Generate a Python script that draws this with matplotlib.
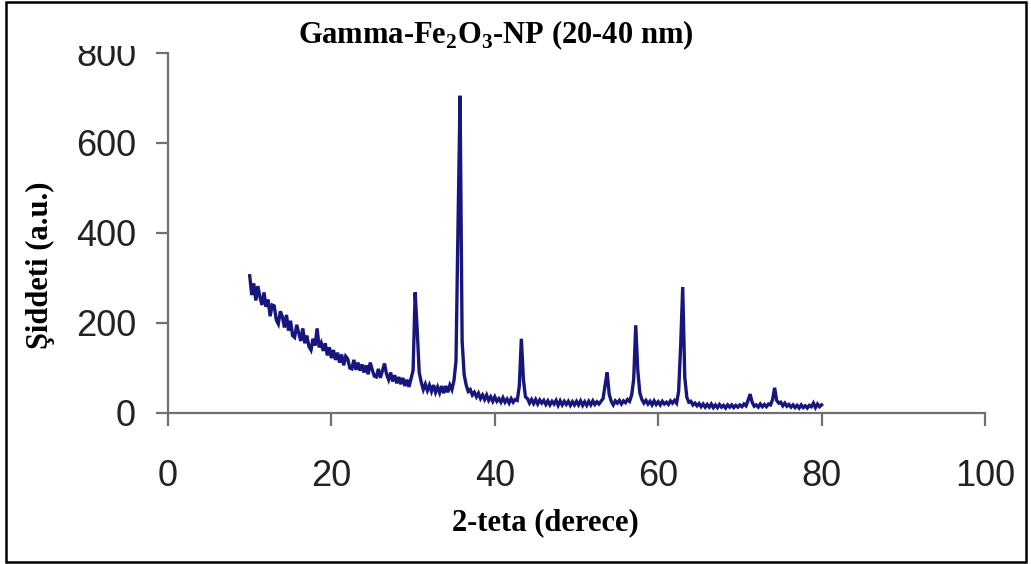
import matplotlib
matplotlib.use('Agg')
import matplotlib.pyplot as plt
from matplotlib.patches import Rectangle
import numpy as np

two_theta = np.arange(10, 80.001, 0.25)

intensity = [
    305, 262, 288, 250,   # 10
    282, 258, 240, 268,   # 11
    236, 252, 215, 240,   # 12
    238, 207, 198, 226,   # 13
    214, 190, 218, 183,   # 14
    205, 172, 168, 196,   # 15
    178, 160, 188, 155,   # 16
    172, 148, 140, 165,   # 17
    150, 188, 146, 156,   # 18
    138, 155, 128, 146,   # 19
    122, 140, 118, 134,   # 20
    112, 130, 106, 126,   # 21
    120, 100, 98, 118,    # 22
    96, 112, 94, 108,     # 23
    90, 106, 86, 112,     # 24
    96, 82, 80, 98,       # 25
    78, 94, 110, 86,      # 26
    74, 90, 70, 84,       # 27
    66, 80, 64, 78,       # 28
    60, 74, 58, 76,       # 29
    95, 268, 185, 90,     # 30
    68, 52, 64, 50,       # 31
    62, 48, 62, 46,       # 32
    58, 45, 60, 44,       # 33
    60, 46, 62, 52,       # 34
    72, 115, 420, 705,    # 35
    160, 85, 62, 48,      # 36
    52, 40, 46, 36,       # 37
    44, 32, 40, 30,       # 38
    40, 28, 36, 26,       # 39
    36, 26, 32, 24,       # 40
    34, 24, 31, 22,       # 41
    32, 24, 30, 28,       # 42
    60, 165, 75, 36,      # 43
    32, 22, 30, 21,       # 44
    30, 20, 29, 22,       # 45
    28, 19, 27, 18,       # 46
    26, 20, 28, 17,       # 47
    27, 18, 26, 19,       # 48
    26, 17, 25, 18,       # 49
    26, 18, 27, 17,       # 50
    25, 17, 26, 18,       # 51
    27, 19, 25, 20,       # 52
    26, 32, 62, 90,       # 53
    42, 26, 18, 27,       # 54
    22, 28, 20, 27,       # 55
    23, 30, 26, 40,       # 56
    75, 195, 95, 45,      # 57
    30, 22, 28, 20,       # 58
    26, 18, 27, 19,       # 59
    25, 18, 26, 20,       # 60
    24, 19, 27, 22,       # 61
    28, 22, 48, 150,      # 62
    280, 80, 35, 24,      # 63
    26, 18, 22, 16,       # 64
    21, 14, 20, 13,       # 65
    19, 13, 20, 12,       # 66
    18, 12, 19, 13,       # 67
    17, 11, 18, 13,       # 68
    18, 12, 17, 13,       # 69
    18, 14, 20, 16,       # 70
    28, 42, 24, 15,       # 71
    18, 13, 20, 14,       # 72
    19, 14, 20, 18,       # 73
    30, 56, 28, 22,       # 74
    24, 16, 22, 15,       # 75
    19, 13, 18, 12,       # 76
    17, 11, 18, 12,       # 77
    16, 11, 17, 14,       # 78
    22, 12, 20, 14,       # 79
    18,                   # 80
]

x_ticks = [0, 20, 40, 60, 80, 100]
y_ticks = [0, 200, 400, 600, 800]

plt.rcParams['mathtext.fontset'] = 'custom'
plt.rcParams['mathtext.rm'] = 'Liberation Serif:bold'
plt.rcParams['mathtext.bf'] = 'Liberation Serif:bold'

fig = plt.figure(figsize=(10.31, 5.64), dpi=100)
ax = fig.add_axes([168 / 1031, 151 / 564, 817 / 1031, 360 / 564])

# Desen
ax.plot(two_theta, intensity, color='#16167c', lw=2.4, solid_joinstyle='miter')

ax.set_xlim(0, 100)
ax.set_ylim(0, 800)
ax.set_xticks(x_ticks)
ax.set_yticks(y_ticks)

# Eksen görünümü
for side in ['top', 'right']:
    ax.spines[side].set_visible(False)
for side in ['left', 'bottom']:
    ax.spines[side].set_color('#707070')
    ax.spines[side].set_linewidth(1.6)
ax.tick_params(axis='both', direction='out', length=9, width=1.6, color='#707070',
               labelsize=26, labelcolor='#222222')
ax.tick_params(axis='x', pad=24)
ax.tick_params(axis='y', pad=14)
for lbl in ax.get_xticklabels() + ax.get_yticklabels():
    lbl.set_fontfamily('Liberation Sans')

# Başlık ve etiketler
fig.text(496 / 1031, 1 - 35 / 564, 'Gamma-Fe$_\\mathbf{2}$O$_\\mathbf{3}$-NP (20-40 nm)',
         family='Liberation Serif', weight='bold', fontsize=22, ha='center', va='center')
fig.text(40 / 1031, 1 - 265 / 564, 'Şiddeti (a.u.)', family='Liberation Serif',
         weight='bold', fontsize=22, rotation=90, ha='center', va='center')
fig.text(545 / 1031, 1 - 523 / 564, '2-teta (derece)', family='Liberation Serif',
         weight='bold', fontsize=22, ha='center', va='center')

# "800" etiketinin üst kısmı kesik
fig.patches.append(Rectangle((60 / 1031, 1 - 46 / 564), 90 / 1031, 40 / 564,
                             transform=fig.transFigure, facecolor='white',
                             edgecolor='none', zorder=5))

# Dış çerçeve
fig.patches.append(Rectangle((6 / 1031, 1 - 562 / 564), 1020 / 1031, 560 / 564,
                             transform=fig.transFigure, facecolor='none',
                             edgecolor='black', lw=1.8, zorder=6))

plt.savefig('out.png', dpi=100)
